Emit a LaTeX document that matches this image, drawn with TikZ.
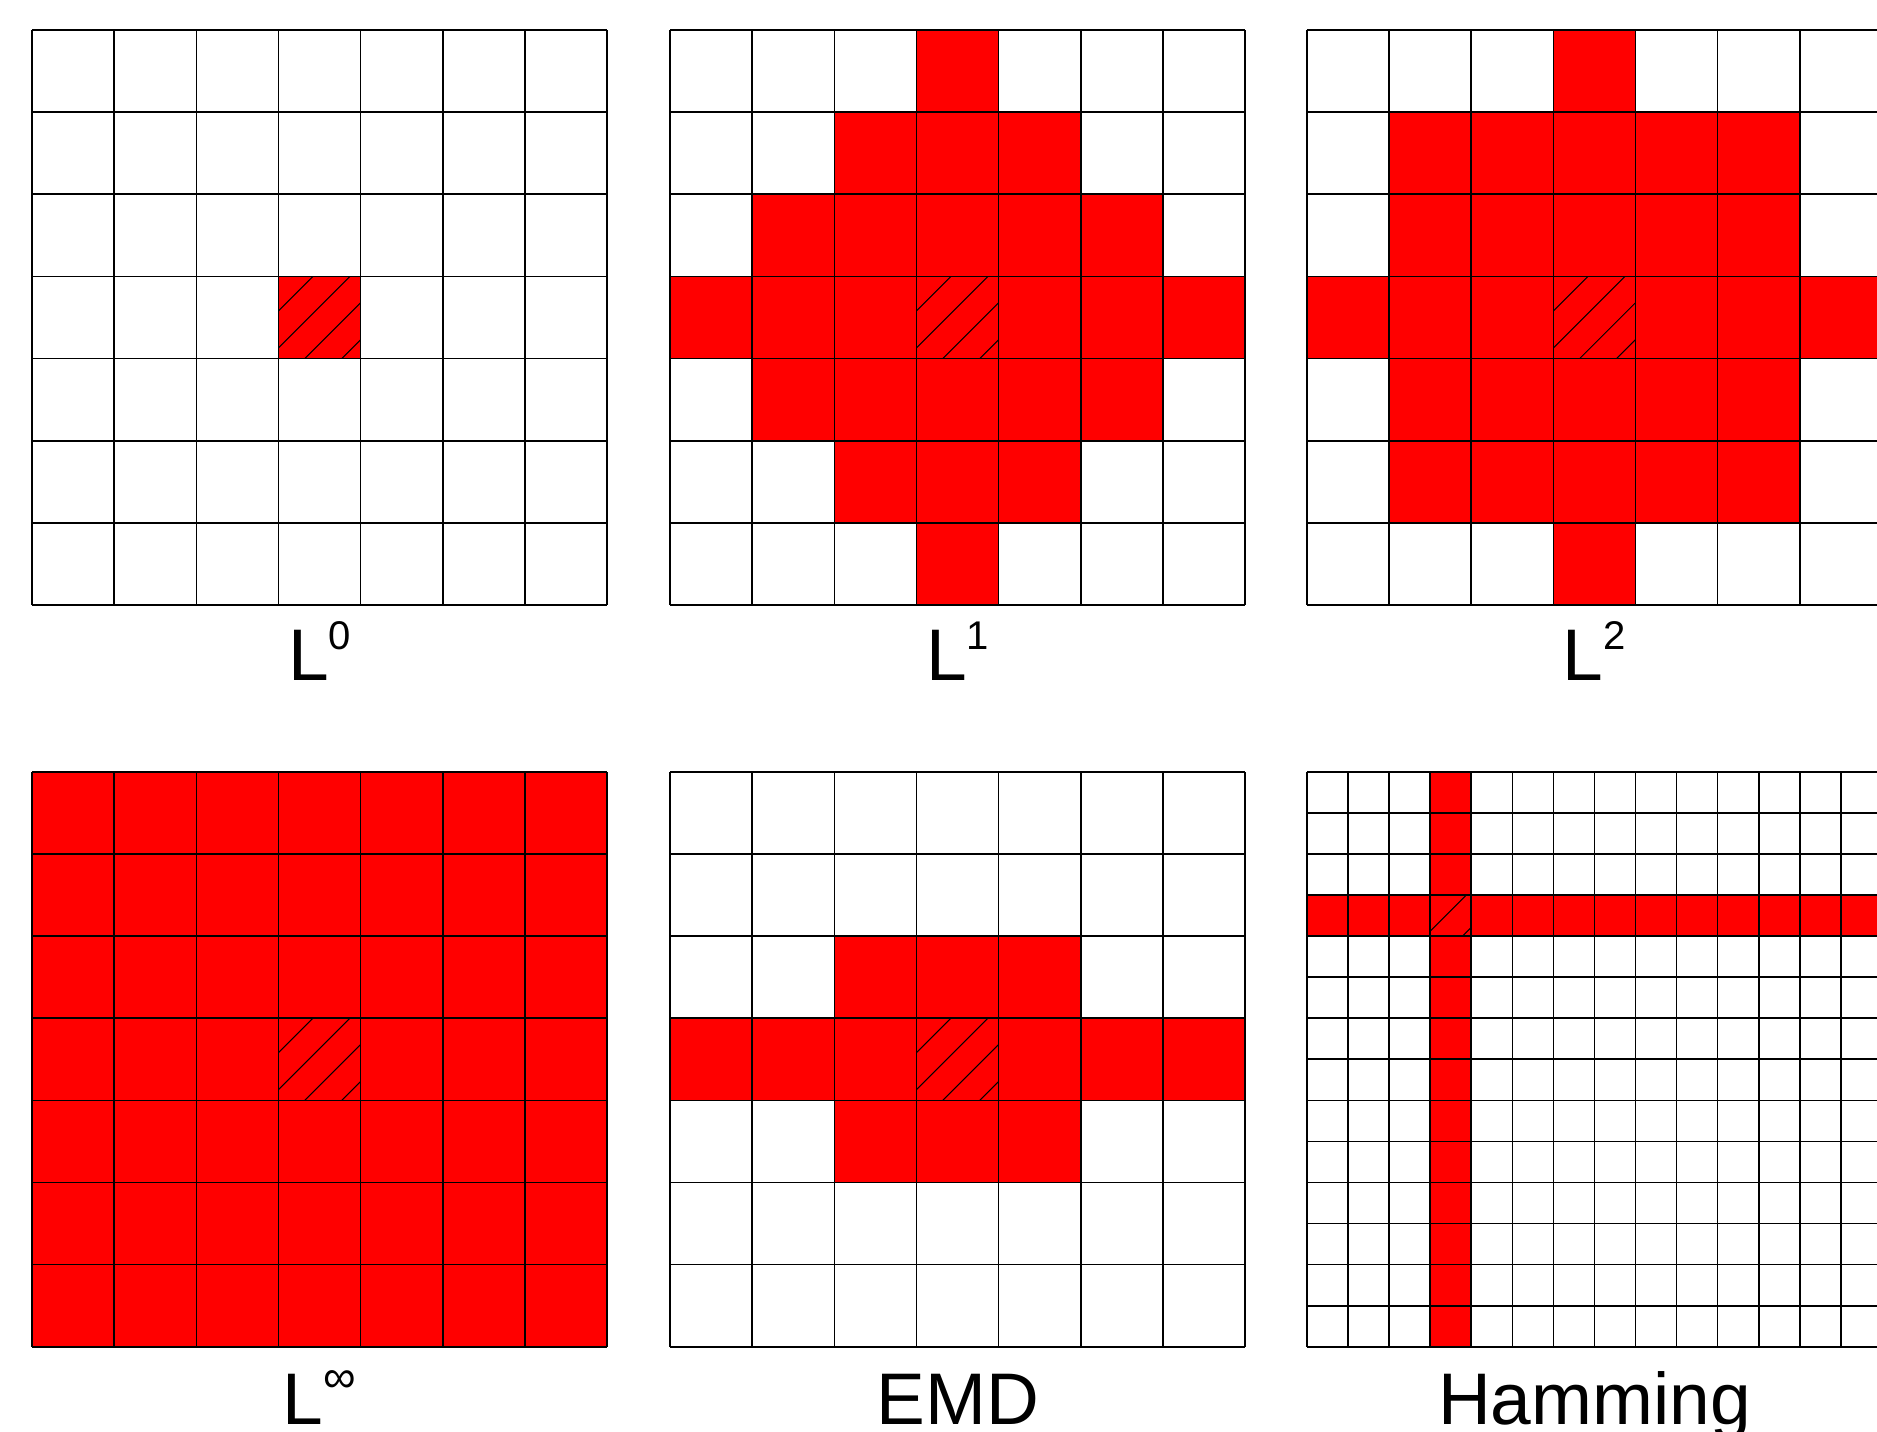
\documentclass[tikz,border=0pt]{standalone}
\usepackage{fontspec}
\setmainfont{Liberation Sans}

\newcommand{\lexp}[1]{\raisebox{8.7pt}{\fontsize{11.4}{12}\selectfont #1}}

\begin{document}
\begin{tikzpicture}
    [
    x=8.214mm, y=8.214mm,
    gridline/.style={draw=black,line width=0.45pt,step=1},
    ball/.style={fill=red},
    hatch/.style={draw=black,line width=0.3pt},
    caption/.style={anchor=base,inner sep=0pt,font=\fontsize{20.8}{25}\selectfont},
    ]
    \useasboundingbox (-0.39,-17.056) rectangle (22.46,0.365);

    % L0
    \begin{scope}
      \fill[ball] (3,-4) rectangle (4,-3);
      \draw[gridline] (0,-7) grid (7,0);
      \draw[hatch] (3,-3.42) -- (3.42,-3);
      \draw[hatch] (3,-3.87) -- (3.87,-3);
      \draw[hatch] (3.32,-4) -- (4,-3.32);
      \draw[hatch] (3.77,-4) -- (4,-3.77);
      \node (l0) at (3.5,-7.913) [caption] {L\lexp{0}};
    \end{scope}

    % L1
    \begin{scope}[shift={(7.767,0)}]
      \fill[ball] (3,-1) rectangle (4,0);
      \fill[ball] (2,-2) rectangle (5,-1);
      \fill[ball] (1,-3) rectangle (6,-2);
      \fill[ball] (0,-4) rectangle (7,-3);
      \fill[ball] (1,-5) rectangle (6,-4);
      \fill[ball] (2,-6) rectangle (5,-5);
      \fill[ball] (3,-7) rectangle (4,-6);
      \draw[gridline] (0,-7) grid (7,0);
      \draw[hatch] (3,-3.42) -- (3.42,-3);
      \draw[hatch] (3,-3.87) -- (3.87,-3);
      \draw[hatch] (3.32,-4) -- (4,-3.32);
      \draw[hatch] (3.77,-4) -- (4,-3.77);
      \node (l1) at (3.5,-7.913) [caption] {L\lexp{1}};
    \end{scope}

    % L2
    \begin{scope}[shift={(15.52,0)}]
      \fill[ball] (3,-1) rectangle (4,0);
      \fill[ball] (1,-3) rectangle (6,-1);
      \fill[ball] (0,-4) rectangle (7,-3);
      \fill[ball] (1,-6) rectangle (6,-4);
      \fill[ball] (3,-7) rectangle (4,-6);
      \draw[gridline] (0,-7) grid (7,0);
      \draw[hatch] (3,-3.42) -- (3.42,-3);
      \draw[hatch] (3,-3.87) -- (3.87,-3);
      \draw[hatch] (3.32,-4) -- (4,-3.32);
      \draw[hatch] (3.77,-4) -- (4,-3.77);
      \node (l2) at (3.5,-7.913) [caption] {L\lexp{2}};
    \end{scope}

    % L infinity
    \begin{scope}[shift={(0,-9.03)}]
      \fill[ball] (0,-7) rectangle (7,0);
      \draw[gridline] (0,-7) grid (7,0);
      \draw[hatch] (3,-3.42) -- (3.42,-3);
      \draw[hatch] (3,-3.87) -- (3.87,-3);
      \draw[hatch] (3.32,-4) -- (4,-3.32);
      \draw[hatch] (3.77,-4) -- (4,-3.77);
      \node (linf) at (3.5,-7.94) [caption] {L\raisebox{9pt}{\fontsize{13}{14}\selectfont ∞}};
    \end{scope}

    % EMD
    \begin{scope}[shift={(7.767,-9.03)}]
      \fill[ball] (2,-3) rectangle (5,-2);
      \fill[ball] (0,-4) rectangle (7,-3);
      \fill[ball] (2,-5) rectangle (5,-4);
      \draw[gridline] (0,-7) grid (7,0);
      \draw[hatch] (3,-3.42) -- (3.42,-3);
      \draw[hatch] (3,-3.87) -- (3.87,-3);
      \draw[hatch] (3.32,-4) -- (4,-3.32);
      \draw[hatch] (3.77,-4) -- (4,-3.77);
      \node (emd) at (3.5,-7.94) [caption] {EMD};
    \end{scope}

    % Hamming
    \begin{scope}[shift={(15.52,-9.03)}]
      \fill[ball] (1.5,-7) rectangle (2,0);
      \fill[ball] (0,-2) rectangle (7,-1.5);
      \draw[gridline,step=0.5] (0,-7) grid (7,0);
      \draw[hatch] (1.5,-1.94) -- (1.94,-1.5);
      \draw[hatch] (1.895,-2) -- (2,-1.895);
      \node (ham) at (3.5,-7.94) [caption] {Hamming};
    \end{scope}
\end{tikzpicture}
\end{document}
